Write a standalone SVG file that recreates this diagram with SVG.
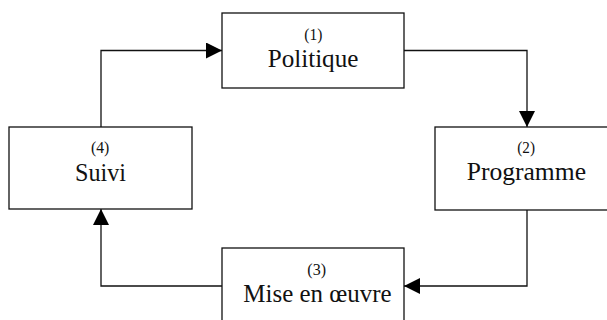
<svg xmlns="http://www.w3.org/2000/svg" width="607" height="320" viewBox="0 0 607 320">
<style>
.box{fill:#fff;stroke:#111;stroke-width:1.3}
.conn{fill:none;stroke:#111;stroke-width:1.3}
.lbl{font-family:"Liberation Serif","Times New Roman",serif;font-size:16px;fill:#111}
.main{font-family:"Liberation Serif","Times New Roman",serif;font-size:25.5px;fill:#111}
</style>
<defs>
<marker id="arr" markerUnits="userSpaceOnUse" markerWidth="16" markerHeight="16" viewBox="0 0 15 15" refX="15" refY="7.5" orient="auto">
<path d="M0,0 L15,7.5 L0,15 Z" fill="#000"/>
</marker>
</defs>
<rect width="607" height="320" fill="#fff"/>
<g id="connectors">
<path class="conn" d="M101,127 V50.5 H222" marker-end="url(#arr)"/>
<path class="conn" d="M404,50.5 H527 V127" marker-end="url(#arr)"/>
<path class="conn" d="M527,210 V286 H404" marker-end="url(#arr)"/>
<path class="conn" d="M222,286 H101 V209" marker-end="url(#arr)"/>
</g>
<g id="politique">
<rect class="box" x="222" y="13" width="182" height="75"/>
<text class="lbl" x="304.3" y="40" textLength="18" lengthAdjust="spacingAndGlyphs">(1)</text>
<text class="main" x="267.7" y="67" textLength="90.7" lengthAdjust="spacingAndGlyphs">Politique</text>
</g>
<g id="programme">
<rect class="box" x="435" y="127" width="183" height="83"/>
<text class="lbl" x="517.3" y="153" textLength="17.7" lengthAdjust="spacingAndGlyphs">(2)</text>
<text class="main" x="466.7" y="180" textLength="119.3" lengthAdjust="spacingAndGlyphs">Programme</text>
</g>
<g id="mise">
<rect class="box" x="222" y="248" width="182" height="80"/>
<text class="lbl" x="307.3" y="275" textLength="18.7" lengthAdjust="spacingAndGlyphs">(3)</text>
<text class="main" x="243.3" y="301.7" textLength="148.3" lengthAdjust="spacingAndGlyphs">Mise en œuvre</text>
</g>
<g id="suivi">
<rect class="box" x="9" y="127" width="183" height="82"/>
<text class="lbl" x="91" y="153" textLength="18.3" lengthAdjust="spacingAndGlyphs">(4)</text>
<text class="main" x="75" y="181" textLength="51" lengthAdjust="spacingAndGlyphs">Suivi</text>
</g>
</svg>
